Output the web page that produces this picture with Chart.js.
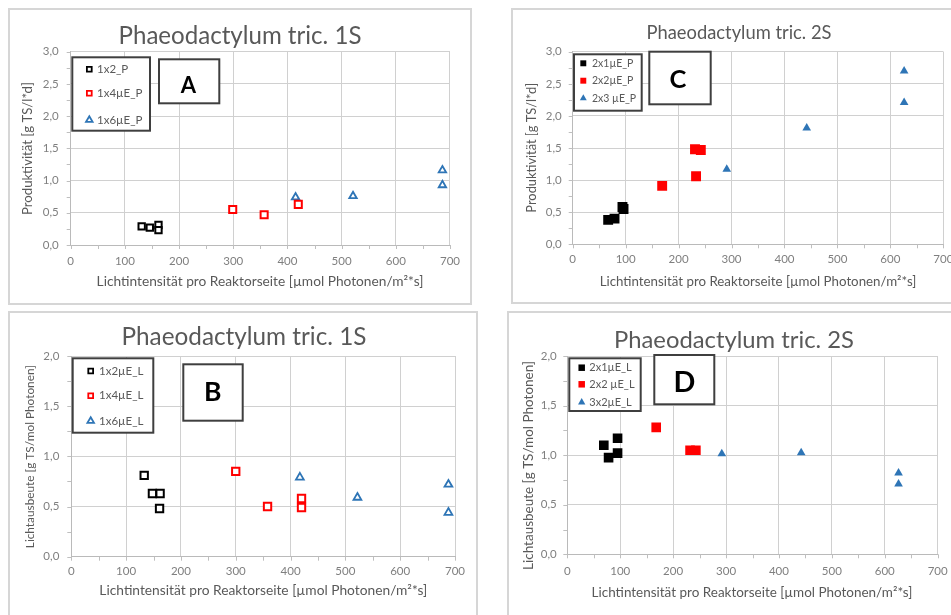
<!DOCTYPE html>
<html>
<head>
<meta charset="utf-8">
<script src="https://cdn.jsdelivr.net/npm/chart.js@4.4.1/dist/chart.umd.min.js"></script>
<style>
    html, body { margin: 0; padding: 0; background: #ffffff; }
    body { width: 951px; height: 615px; overflow: hidden; position: relative; }
    .frame { position: absolute; box-sizing: border-box; border: 2px solid #d6d6d6; background: #ffffff; }
    canvas { position: absolute; left: 0; top: 0; }
</style>
</head>
<body>
<script>
const FONT = "Lato, 'Open Sans', sans-serif";
const BLUE = "#2e75b6";
const RED = "#ff0000";
const BLACK = "#000000";

// tick labels
const xTickValues = [0, 100, 200, 300, 400, 500, 600, 700];
const prodTickValues = [0, 0.5, 1, 1.5, 2, 2.5, 3];
const yieldTickValues = [0, 0.5, 1, 1.5, 2];

// A: Produktivität, 1S
const a1x2pX = [131, 146, 162, 162];
const a1x2pY = [0.29, 0.27, 0.31, 0.23];
const a1x4pX = [299, 357, 420];
const a1x4pY = [0.55, 0.47, 0.63];
const a1x6pX = [415, 521, 686, 686];
const a1x6pY = [0.74, 0.76, 1.16, 0.93];

// B: Lichtausbeute, 1S
const b1x2lX = [133, 148, 162, 161];
const b1x2lY = [0.81, 0.63, 0.63, 0.48];
const b1x4lX = [300, 358, 420, 420];
const b1x4lY = [0.85, 0.50, 0.58, 0.49];
const b1x6lX = [417, 522, 688, 688];
const b1x6lY = [0.79, 0.59, 0.72, 0.44];

// C: Produktivität, 2S
const c2x1pX = [67, 79, 94, 96];
const c2x1pY = [0.38, 0.40, 0.58, 0.55];
const c2x2pX = [169, 231, 242, 233];
const c2x2pY = [0.91, 1.48, 1.47, 1.06];
const c2x3pX = [291, 442, 626, 626];
const c2x3pY = [1.17, 1.81, 2.70, 2.21];

// D: Lichtausbeute, 2S
const d2x1lX = [69, 78, 95, 95];
const d2x1lY = [1.10, 0.975, 1.17, 1.02];
const d2x2lX = [168, 232, 243];
const d2x2lY = [1.28, 1.05, 1.05];
const d3x2lX = [292, 442, 626, 626];
const d3x2lY = [1.015, 1.025, 0.82, 0.71];

const CANVAS_W = 1000;
const CANVAS_H = 660;
const Y_AXIS_W = 40;
const X_AXIS_H = 28;
const X_TITLE = "Lichtintensität pro Reaktorseite [µmol Photonen/m²*s]";

function points(xs, ys) {
    return xs.map((x, i) => ({ x, y: ys[i] }));
}

function markerSet(label, xs, ys, shape, color, filled, radius, legendRadius) {
    return {
        label,
        data: points(xs, ys),
        showLine: false,
        pointStyle: shape,
        pointRadius: radius,
        pointHoverRadius: radius,
        pointBackgroundColor: filled ? color : "#ffffff",
        pointBorderColor: color,
        pointBorderWidth: filled ? 0 : (shape === "rect" ? 2 : 1.8),
        legendRadius
    };
}

function drawMarker(ctx, shape, x, y, r, fill, stroke, bw) {
    ctx.beginPath();
    if (shape === "rect") {
        const s = r / Math.SQRT2;
        ctx.rect(x - s, y - s, 2 * s, 2 * s);
    } else {
        for (let k = 0; k < 3; k++) {
            const a = k * 2 * Math.PI / 3;
            const px = x + Math.sin(a) * r;
            const py = y - Math.cos(a) * r;
            if (k === 0) ctx.moveTo(px, py); else ctx.lineTo(px, py);
        }
        ctx.closePath();
    }
    ctx.fillStyle = fill;
    ctx.fill();
    if (bw > 0) {
        ctx.lineWidth = bw;
        ctx.strokeStyle = stroke;
        ctx.stroke();
    }
}

function fittedFont(ctx, text, weight, width) {
    ctx.font = `${weight} 20px ${FONT}`;
    const size = 20 * width / ctx.measureText(text).width;
    return `${weight} ${size.toFixed(2)}px ${FONT}`;
}

const panelDecor = {
    id: "panelDecor",
    afterDraw(chart, args, o) {
        const ctx = chart.ctx;
        const area = chart.chartArea;
        const xs = chart.scales.x;
        const ys = chart.scales.y;
        ctx.save();

        // small tick marks outside the axes
        ctx.strokeStyle = "#bfbfbf";
        ctx.lineWidth = 1;
        ctx.beginPath();
        for (let v = xs.min; v <= xs.max + 1e-6; v += 50) {
            const px = Math.round(xs.getPixelForValue(v)) + 0.5;
            ctx.moveTo(px, area.bottom);
            ctx.lineTo(px, area.bottom + 4);
        }
        for (let v = ys.min; v <= ys.max + 1e-6; v += 0.25) {
            const py = Math.round(ys.getPixelForValue(v)) + 0.5;
            ctx.moveTo(area.left - 4, py);
            ctx.lineTo(area.left, py);
        }
        ctx.stroke();

        // titles
        ctx.fillStyle = "#595959";
        ctx.textAlign = "center";
        ctx.textBaseline = "middle";
        ctx.font = fittedFont(ctx, o.title, "normal", o.titlePos[2]);
        ctx.fillText(o.title, o.titlePos[0], o.titlePos[1]);
        ctx.font = fittedFont(ctx, X_TITLE, "normal", o.xTitlePos[2]);
        ctx.fillText(X_TITLE, o.xTitlePos[0], o.xTitlePos[1]);
        ctx.save();
        ctx.translate(o.yTitlePos[0], o.yTitlePos[1]);
        ctx.rotate(-Math.PI / 2);
        ctx.font = fittedFont(ctx, o.yTitle, "normal", o.yTitlePos[2]);
        ctx.fillText(o.yTitle, 0, 0);
        ctx.restore();

        // legend box
        const lg = o.legend;
        ctx.fillStyle = "#ffffff";
        ctx.fillRect(lg.box[0], lg.box[1], lg.box[2], lg.box[3]);
        ctx.lineWidth = 2;
        ctx.strokeStyle = "#3f3f3f";
        ctx.strokeRect(lg.box[0], lg.box[1], lg.box[2], lg.box[3]);
        chart.data.datasets.forEach((ds, i) => {
            const bw = ds.pointBorderWidth > 0 ? 1.8 : 0;
            drawMarker(ctx, ds.pointStyle, lg.markerX, lg.rows[i], ds.legendRadius,
                ds.pointBackgroundColor, ds.pointBorderColor, bw);
            ctx.fillStyle = "#595959";
            ctx.font = `${lg.font}px ${FONT}`;
            ctx.textAlign = "left";
            ctx.textBaseline = "middle";
            ctx.fillText(ds.label, lg.textX, lg.rows[i]);
        });

        // panel letter box
        const lt = o.letter;
        ctx.fillStyle = "#ffffff";
        ctx.fillRect(lt.box[0], lt.box[1], lt.box[2], lt.box[3]);
        ctx.lineWidth = 2;
        ctx.strokeStyle = "#3f3f3f";
        ctx.strokeRect(lt.box[0], lt.box[1], lt.box[2], lt.box[3]);
        ctx.fillStyle = "#000000";
        ctx.font = `bold ${lt.size}px ${FONT}`;
        ctx.textAlign = "center";
        ctx.textBaseline = "alphabetic";
        ctx.fillText(lt.text, lt.x, lt.base);

        ctx.restore();
    }
};

const panels = [
    {
        frame: [8, 8, 464, 297],
        area: [70.7, 51.7, 450, 245],
        yTicks: prodTickValues,
        yPad: 12, xPad: 9,
        decor: {
            title: "Phaeodactylum tric. 1S", titlePos: [240, 36, 243],
            xTitlePos: [260, 282, 327],
            yTitle: "Produktivität [g TS/l*d]", yTitlePos: [28, 148.5, 133],
            legend: { box: [72.3, 57.3, 77.7, 73.4], rows: [69.3, 93.3, 120], markerX: 89.3, textX: 97, font: 11.5 },
            letter: { text: "A", box: [159, 59.3, 60.3, 44], x: 188.3, base: 92.7, size: 22 }
        },
        datasets: [
            markerSet("1x2_P", a1x2pX, a1x2pY, "rect", BLACK, false, 4.5, 3.4),
            markerSet("1x4µE_P", a1x4pX, a1x4pY, "rect", RED, false, 5, 3.4),
            markerSet("1x6µE_P", a1x6pX, a1x6pY, "triangle", BLUE, false, 4.3, 3.8)
        ]
    },
    {
        frame: [8, 311, 470, 320],
        area: [71.3, 356, 455, 556.7],
        yTicks: yieldTickValues,
        yPad: 12, xPad: 8,
        decor: {
            title: "Phaeodactylum tric. 1S", titlePos: [244, 336.7, 245],
            xTitlePos: [263.3, 591, 328],
            yTitle: "Lichtausbeute [g TS/mol Photonen]", yTitlePos: [30, 456.7, 183],
            legend: { box: [72.7, 358.3, 80.6, 74.4], rows: [371, 395.7, 421], markerX: 90.7, textX: 99, font: 11.5 },
            letter: { text: "B", box: [183.3, 364.3, 59.4, 56.4], x: 212.7, base: 400.7, size: 26.5 }
        },
        datasets: [
            markerSet("1x2µE_L", b1x2lX, b1x2lY, "rect", BLACK, false, 5.2, 3.4),
            markerSet("1x4µE_L", b1x4lX, b1x4lY, "rect", RED, false, 5.2, 3.4),
            markerSet("1x6µE_L", b1x6lX, b1x6lY, "triangle", BLUE, false, 4.5, 3.8)
        ]
    },
    {
        frame: [511, 8, 460, 296],
        area: [572.7, 51.7, 943.3, 244.3],
        yTicks: prodTickValues,
        yPad: 11, xPad: 8,
        decor: {
            title: "Phaeodactylum tric. 2S", titlePos: [739, 33.3, 185],
            xTitlePos: [758, 281.7, 317],
            yTitle: "Produktivität [g TS/l*d]", yTitlePos: [531.7, 147.7, 130],
            legend: { box: [574, 54.3, 67.7, 56.4], rows: [63.3, 80.7, 98.3], markerX: 583.3, textX: 592, font: 10.5 },
            letter: { text: "C", box: [649.3, 51.7, 61.4, 52.6], x: 678, base: 88.3, size: 25.5 }
        },
        datasets: [
            markerSet("2x1µE_P", c2x1pX, c2x1pY, "rect", BLACK, true, 7, 4.2),
            markerSet("2x2µE_P", c2x2pX, c2x2pY, "rect", RED, true, 7, 4.2),
            markerSet("2x3 µE_P", c2x3pX, c2x3pY, "triangle", BLUE, true, 5, 4)
        ]
    },
    {
        frame: [507, 311, 460, 320],
        area: [567.3, 356, 937.7, 554.3],
        yTicks: yieldTickValues,
        yPad: 10.6, xPad: 10,
        decor: {
            title: "Phaeodactylum tric. 2S", titlePos: [734, 340.3, 240],
            xTitlePos: [752, 592.3, 321],
            yTitle: "Lichtausbeute [g TS/mol Photonen]", yTitlePos: [528.3, 465.5, 209],
            legend: { box: [569.3, 358.3, 71.4, 52.7], rows: [367.7, 384.3, 402.3], markerX: 581.7, textX: 589.3, font: 11 },
            letter: { text: "D", box: [654.3, 355, 60, 49.3], x: 684.3, base: 392.3, size: 28.7 }
        },
        datasets: [
            markerSet("2x1µE_L", d2x1lX, d2x1lY, "rect", BLACK, true, 6.8, 4.6),
            markerSet("2x2 µE_L", d2x2lX, d2x2lY, "rect", RED, true, 6.8, 4.6),
            markerSet("3x2µE_L", d3x2lX, d3x2lY, "triangle", BLUE, true, 5, 4.2)
        ]
    }
];

function buildPanel(p) {
    const frame = document.createElement("div");
    frame.className = "frame";
    frame.style.left = p.frame[0] + "px";
    frame.style.top = p.frame[1] + "px";
    frame.style.width = p.frame[2] + "px";
    frame.style.height = p.frame[3] + "px";
    document.body.appendChild(frame);
}

function buildChart(p) {
    const canvas = document.createElement("canvas");
    canvas.width = CANVAS_W;
    canvas.height = CANVAS_H;
    canvas.style.width = CANVAS_W + "px";
    canvas.style.height = CANVAS_H + "px";
    document.body.appendChild(canvas);

    const [left, top, right, bottom] = p.area;
    const tickFont = { family: FONT, size: 11.5 };

    new Chart(canvas, {
        type: "scatter",
        data: { datasets: p.datasets },
        options: {
            responsive: false,
            animation: false,
            events: [],
            layout: {
                padding: {
                    left: left - Y_AXIS_W,
                    top,
                    right: CANVAS_W - right,
                    bottom: CANVAS_H - bottom - X_AXIS_H
                }
            },
            scales: {
                x: {
                    type: "linear",
                    min: 0,
                    max: 700,
                    afterBuildTicks: (scale) => {
                        scale.ticks = xTickValues.map((v) => ({ value: v }));
                    },
                    afterFit: (scale) => { scale.height = X_AXIS_H; },
                    ticks: {
                        autoSkip: false,
                        maxRotation: 0,
                        padding: p.xPad,
                        color: "#7f7f7f",
                        font: tickFont,
                        callback: (v) => String(v)
                    },
                    grid: { color: "#d0d0d0", lineWidth: 1, drawTicks: false },
                    border: { display: true, color: "#bababa", width: 1 }
                },
                y: {
                    type: "linear",
                    min: 0,
                    max: p.yTicks[p.yTicks.length - 1],
                    afterBuildTicks: (scale) => {
                        scale.ticks = p.yTicks.map((v) => ({ value: v }));
                    },
                    afterFit: (scale) => { scale.width = Y_AXIS_W; },
                    ticks: {
                        autoSkip: false,
                        padding: p.yPad,
                        color: "#7f7f7f",
                        font: tickFont,
                        callback: (v) => Number(v).toFixed(1).replace(".", ",")
                    },
                    grid: { color: "#d0d0d0", lineWidth: 1, drawTicks: false },
                    border: { display: true, color: "#bababa", width: 1 }
                }
            },
            plugins: {
                legend: { display: false },
                title: { display: false },
                tooltip: { enabled: false },
                panelDecor: p.decor
            }
        },
        plugins: [panelDecor]
    });
}

panels.forEach(buildPanel);
panels.forEach(buildChart);
</script>
</body>
</html>
